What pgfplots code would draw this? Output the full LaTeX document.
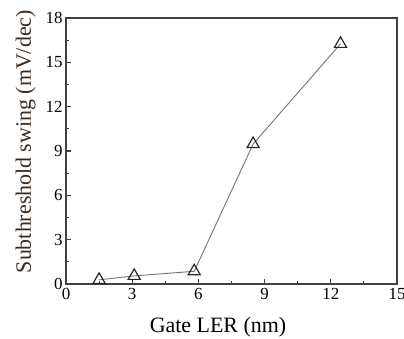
\documentclass[border=0pt]{standalone}
\usepackage{pgfplots}
\pgfplotsset{compat=1.18}
\usepackage{fontspec}
\setmainfont{Liberation Serif}
\definecolor{labelbrown}{RGB}{58,42,30}
\begin{document}
\begin{tikzpicture}[x=1bp,y=1bp]
\begin{axis}[
  at={(0,0)}, anchor=south west,
  scale only axis,
  width=331bp, height=266bp,
  xmin=0, xmax=15, ymin=0, ymax=18,
  xtick={0,3,...,15}, ytick={0,3,...,18},
  minor x tick num=1, minor y tick num=1,
  tick align=inside,
  tick pos=left,
  major tick length=5.5bp, minor tick length=3bp,
  axis line style={black!75, line width=1.2pt},
  tick style={black!75, line width=1.2pt},
  /pgf/number format/assume math mode=true,
  tick label style={font=\fontsize{17}{20}\selectfont},
  xticklabel style={yshift=-1bp},
  label style={font=\fontsize{22}{25}\selectfont},
  xlabel={Gate LER (nm)},
  ylabel={\textcolor{labelbrown}{Subthreshold swing (mV/dec)}},
  xlabel style={at={(axis description cs:0.459,-0.183)}, anchor=base},
  ylabel style={at={(axis description cs:-0.106,0.535)}, anchor=base, rotate=0},
]
\addplot[black!55, line width=0.9pt, mark=triangle,
  mark options={black!85, line width=1.2pt, solid, fill=white}, mark size=7bp]
  coordinates {(1.50,0.28) (3.09,0.55) (5.81,0.86) (8.48,9.47) (12.44,16.25)};
\end{axis}
\pgfresetboundingbox
\path[use as bounding box] (-66,-55) rectangle (338,284);
\end{tikzpicture}
\end{document}
